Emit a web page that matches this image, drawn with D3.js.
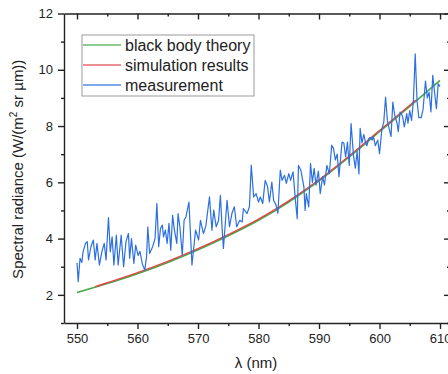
<!DOCTYPE html>
<html>
<head>
<meta charset="utf-8">
<script src="https://cdn.jsdelivr.net/npm/d3@7"></script>
<style>
  body { margin: 0; background: #fff; }
  svg { display: block; font-family: "Liberation Sans", Arial, sans-serif; }
</style>
</head>
<body>
<svg id="drawing_region"></svg>
<script>
// black body theory, read every 5 nm
const theoryWl = [550, 555, 560, 565, 570, 575, 580, 585, 590, 595, 600, 605, 610];
const theoryVal = [2.08, 2.40, 2.75, 3.15, 3.60, 4.10, 4.65, 5.30, 6.05, 6.90, 7.80, 8.70, 9.62];

// simulation results (sits just on top of the theory curve)
const simWl = [553, 555, 560, 565, 570, 575, 580, 585, 590, 595, 600, 605, 606];
const simVal = [2.29, 2.43, 2.79, 3.19, 3.64, 4.14, 4.69, 5.34, 6.09, 6.94, 7.84, 8.74, 8.92];

const measWl = [550.0,550.2,550.5,550.8,551.0,551.4,551.7,551.9,552.3,552.7,553.0,553.3,553.7,554.1,554.5,554.8,
  555.2,555.5,555.8,556.1,556.5,556.8,557.3,557.7,558.1,558.5,558.7,559.0,559.4,559.7,560.1,560.4,560.8,
  561.2,561.5,561.7,562.0,562.5,562.9,563.2,563.5,563.8,564.1,564.3,564.6,564.9,565.2,565.5,565.8,566.1,
  566.5,566.7,567.0,567.4,567.7,568.0,568.5,569.0,569.6,570.1,570.4,570.9,571.3,571.9,572.3,572.6,573.0,
  573.4,573.7,574.0,574.2,574.8,575.2,575.6,576.0,576.4,576.9,577.3,577.5,578.1,578.5,578.8,579.2,579.6,
  580.0,580.3,580.7,581.1,581.5,581.8,582.2,582.5,582.9,583.2,583.6,583.9,584.3,584.6,585.0,585.3,585.7,
  586.1,586.4,586.6,587.0,587.5,587.7,587.9,588.3,588.6,588.9,589.2,589.5,589.9,590.2,590.6,590.9,591.3,
  591.7,592.1,592.4,592.7,593.0,593.3,593.8,594.1,594.4,594.7,595.0,595.3,595.7,596.0,596.3,596.6,596.8,
  597.1,597.4,597.7,597.9,598.2,598.5,598.8,599.0,599.3,599.7,600.0,600.4,600.7,601.0,601.3,601.6,601.9,
  602.2,602.5,602.9,603.1,603.4,603.8,604.1,604.5,604.7,605.0,605.3,605.6,605.9,606.2,606.5,606.9,607.2,
  607.6,607.9,608.2,608.5,608.8,609.1,609.4,609.7,610.0];
const measVal = [3.14,2.47,3.30,3.15,3.53,3.83,3.89,3.24,3.71,3.95,3.24,3.83,3.06,3.53,3.83,3.24,
  4.75,3.53,4.06,3.06,4.12,3.06,4.12,3.00,3.90,4.18,3.30,4.00,3.12,3.77,3.40,3.55,3.10,
  2.88,3.36,4.42,3.47,3.71,4.00,5.25,3.71,4.36,4.48,4.06,4.30,3.83,4.54,3.59,4.83,4.30,
  3.83,4.89,4.42,3.41,4.65,4.77,5.30,3.06,4.30,3.95,4.65,4.18,4.45,5.48,4.30,5.01,4.42,
  4.65,5.54,4.30,3.65,5.36,4.42,4.89,5.13,4.42,4.65,4.59,5.07,4.89,5.13,6.61,5.48,5.60,
  5.30,5.48,5.25,6.07,5.84,5.30,6.01,5.36,5.19,4.90,6.43,6.07,6.25,5.96,6.31,6.07,6.37,
  5.36,4.71,6.60,6.43,5.84,5.00,5.60,5.13,6.67,6.00,6.50,5.90,6.40,5.60,6.20,5.90,6.60,
  6.30,7.32,7.20,6.80,7.00,6.20,7.43,7.40,6.90,7.43,6.60,8.09,6.95,6.50,7.10,6.30,7.92,
  7.40,7.70,7.40,7.30,7.54,7.60,7.50,7.62,7.30,7.50,7.02,7.90,8.13,9.03,8.20,7.90,7.62,
  8.85,8.40,8.10,7.80,8.50,8.35,7.97,8.44,8.10,8.55,8.20,8.91,10.57,8.90,8.30,8.30,8.60,
  9.60,9.00,9.20,8.50,9.80,9.20,8.62,9.50,9.40];

const xTicks = [550, 560, 570, 580, 590, 600, 610];
const xMinor = [555, 565, 575, 585, 595, 605];
const yTicks = [2, 4, 6, 8, 10, 12];
const yMinor = [1, 3, 5, 7, 9, 11];

const seriesNames = ["black body theory", "simulation results", "measurement"];
const seriesColors = ["#45a845", "#e04848", "#2c6fe0"];

const width = 448, height = 374;
const plotLeft = 64, plotRight = 450, plotTop = 13.5, plotBottom = 323;

const svg = d3.select("#drawing_region")
    .attr("width", width)
    .attr("height", height);

const x = d3.scaleLinear().domain([547.85, 611.65]).range([plotLeft, plotRight]);
const y = d3.scaleLinear().domain([1, 12]).range([plotBottom, plotTop]);

const axisColor = "#222";

// lines
const plot = svg.append("g");

const line = d3.line()
    .x(d => x(d[0]))
    .y(d => y(d[1]));

plot.append("path")
    .datum(d3.zip(theoryWl, theoryVal))
    .attr("fill", "none")
    .attr("stroke", seriesColors[0])
    .attr("stroke-width", 1.6)
    .attr("d", line.curve(d3.curveMonotoneX));

plot.append("path")
    .datum(d3.zip(simWl, simVal))
    .attr("fill", "none")
    .attr("stroke", seriesColors[1])
    .attr("stroke-width", 1.4)
    .attr("d", line.curve(d3.curveMonotoneX));

plot.append("path")
    .datum(d3.zip(measWl, measVal))
    .attr("fill", "none")
    .attr("stroke", seriesColors[2])
    .attr("stroke-width", 1.2)
    .attr("stroke-linejoin", "round")
    .attr("d", line.curve(d3.curveLinear));

// axes
function styleAxis(g) {
    g.selectAll("path, line").attr("stroke", axisColor).attr("stroke-width", 1.4);
    g.selectAll("text").attr("fill", "#222").style("font-size", "13px")
        .style("font-family", "'Liberation Sans', Arial, sans-serif");
}

// bottom
svg.append("g")
    .attr("transform", `translate(0,${plotBottom})`)
    .call(d3.axisBottom(x).tickValues(xTicks).tickFormat(d3.format("d")).tickSize(6).tickSizeOuter(0).tickPadding(5))
    .call(styleAxis);
svg.append("g")
    .attr("transform", `translate(0,${plotBottom})`)
    .call(d3.axisBottom(x).tickValues(xMinor).tickFormat("").tickSize(3).tickSizeOuter(0))
    .call(g => g.select(".domain").remove())
    .call(styleAxis);

// top (ticks inward)
svg.append("g")
    .attr("transform", `translate(0,${plotTop})`)
    .call(d3.axisTop(x).tickValues(xTicks).tickFormat("").tickSizeInner(-6).tickSizeOuter(0))
    .call(styleAxis);
svg.append("g")
    .attr("transform", `translate(0,${plotTop})`)
    .call(d3.axisTop(x).tickValues(xMinor).tickFormat("").tickSizeInner(-3).tickSizeOuter(0))
    .call(g => g.select(".domain").remove())
    .call(styleAxis);

// left
svg.append("g")
    .attr("transform", `translate(${plotLeft},0)`)
    .call(d3.axisLeft(y).tickValues(yTicks).tickSize(6).tickSizeOuter(0).tickPadding(5))
    .call(styleAxis);
svg.append("g")
    .attr("transform", `translate(${plotLeft},0)`)
    .call(d3.axisLeft(y).tickValues(yMinor).tickFormat("").tickSize(3).tickSizeOuter(0))
    .call(g => g.select(".domain").remove())
    .call(styleAxis);

// right (ticks inward)
svg.append("g")
    .attr("transform", `translate(${plotRight},0)`)
    .call(d3.axisRight(y).tickValues(yTicks).tickFormat("").tickSizeInner(-6).tickSizeOuter(0))
    .call(styleAxis);
svg.append("g")
    .attr("transform", `translate(${plotRight},0)`)
    .call(d3.axisRight(y).tickValues(yMinor).tickFormat("").tickSizeInner(-3).tickSizeOuter(0))
    .call(g => g.select(".domain").remove())
    .call(styleAxis);

// axis titles
svg.append("text")
    .attr("x", (plotLeft + plotRight) / 2 - 1)
    .attr("y", 368)
    .attr("text-anchor", "middle")
    .attr("fill", "#222")
    .style("font-size", "15px")
    .text("λ (nm)");

const ytitle = svg.append("text")
    .attr("transform", `translate(23,${(plotTop + plotBottom) / 2 + 1}) rotate(-90)`)
    .attr("text-anchor", "middle")
    .attr("fill", "#222")
    .style("font-size", "15px");
ytitle.append("tspan").text("Spectral radiance (W/(m");
ytitle.append("tspan").attr("dy", -6).style("font-size", "10px").text("2");
ytitle.append("tspan").attr("dy", 6).text(" sr µm))");

// legend
const legend = svg.append("g");
legend.append("rect")
    .attr("x", 82).attr("y", 35)
    .attr("width", 172).attr("height", 61)
    .attr("fill", "#fff")
    .attr("stroke", "#999")
    .attr("stroke-width", 1);

const legendY = d3.scalePoint().domain(seriesNames).range([45, 85]);

legend.selectAll("line")
    .data(seriesNames)
    .join("line")
    .attr("x1", 83).attr("x2", 121)
    .attr("y1", d => legendY(d)).attr("y2", d => legendY(d))
    .attr("stroke", (d, i) => seriesColors[i])
    .attr("stroke-opacity", 0.6)
    .attr("stroke-width", 2);

legend.selectAll("text")
    .data(seriesNames)
    .join("text")
    .attr("x", 125)
    .attr("y", d => legendY(d) + 5.5)
    .attr("fill", "#222")
    .style("font-size", "16px")
    .text(d => d);
</script>
</body>
</html>
